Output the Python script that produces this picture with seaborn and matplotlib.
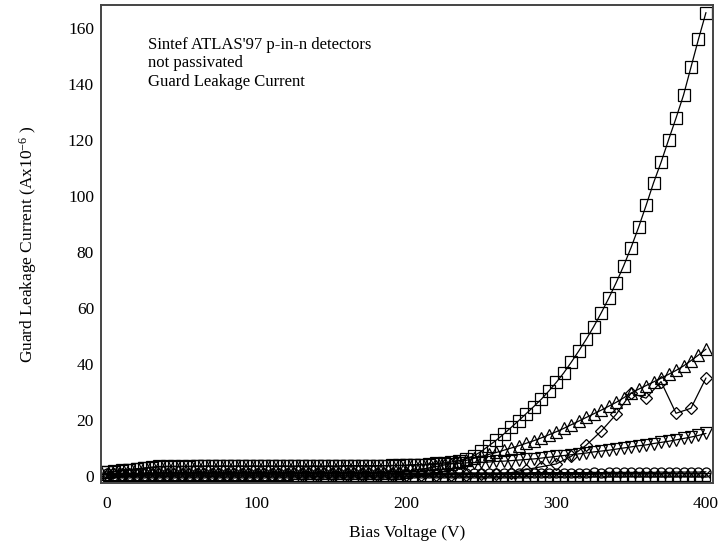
import matplotlib
matplotlib.use("Agg")
import matplotlib.pyplot as plt
import seaborn as sns
import pandas as pd

# ---------------- data ----------------
volts5 = list(range(0, 405, 5))     # 81 points, 5 V step
volts10 = list(range(0, 410, 10))   # 41 points, 10 V step

squares = [1.5, 1.7, 2.0, 2.3, 2.6, 2.9, 3.2, 3.4, 3.5, 3.5,
           3.5, 3.5, 3.6, 3.6, 3.6, 3.6, 3.6, 3.6, 3.6, 3.6,
           3.6, 3.6, 3.6, 3.6, 3.6, 3.6, 3.6, 3.6, 3.6, 3.6,
           3.6, 3.6, 3.7, 3.7, 3.7, 3.7, 3.7, 3.7, 3.8, 3.8,
           3.9, 4.0, 4.1, 4.3, 4.5, 4.7, 5.0, 5.5, 6.2, 7.2,
           8.8, 10.8, 12.8, 15.0, 17.4, 19.8, 22.3, 24.8, 27.4, 30.3,
           33.4, 36.8, 40.6, 44.6, 48.8, 53.3, 58.2, 63.4, 69.0, 75.0,
           81.6, 88.8, 96.6, 104.7, 112.0, 120.0, 127.8, 136.0, 146.0, 156.0,
           165.5]

tri_up = [0.6, 0.6, 0.7, 0.7, 0.7, 0.7, 0.8, 0.8, 0.8, 0.8,
          0.8, 0.8, 0.8, 0.8, 0.8, 0.8, 0.8, 0.8, 0.8, 0.8,
          0.8, 0.8, 0.8, 0.8, 0.8, 0.9, 0.9, 0.9, 0.9, 0.9,
          0.9, 0.9, 0.9, 0.9, 1.0, 1.0, 1.0, 1.0, 1.1, 1.2,
          1.5, 2.0, 2.4, 2.9, 3.4, 3.9, 4.4, 5.0, 5.6, 6.3,
          7.0, 7.7, 8.4, 9.2, 10.0, 10.8, 11.7, 12.6, 13.6, 14.7,
          15.8, 17.0, 18.3, 19.6, 20.9, 22.2, 23.5, 24.9, 26.3, 27.9,
          29.6, 31.0, 32.3, 33.6, 34.9, 36.3, 37.7, 39.3, 41.2, 43.2,
          45.3]

tri_down = [1.3, 1.5, 1.8, 2.1, 2.4, 2.7, 3.0, 3.2, 3.3, 3.3,
            3.3, 3.3, 3.4, 3.4, 3.4, 3.4, 3.4, 3.4, 3.4, 3.4,
            3.4, 3.4, 3.4, 3.4, 3.4, 3.4, 3.4, 3.4, 3.4, 3.4,
            3.4, 3.5, 3.5, 3.5, 3.5, 3.5, 3.5, 3.6, 3.6, 3.7,
            3.8, 3.9, 4.0, 4.1, 4.2, 4.3, 4.4, 4.5, 4.7, 4.8,
            4.9, 5.0, 5.2, 5.3, 5.5, 5.7, 5.9, 6.1, 6.4, 6.7,
            7.0, 7.3, 7.6, 7.9, 8.2, 8.6, 8.9, 9.2, 9.6, 10.0,
            10.4, 10.8, 11.1, 11.6, 12.0, 12.4, 12.9, 13.4, 13.9, 14.5,
            15.2]

diamonds = [0.3, 0.3, 0.3, 0.3, 0.3, 0.3, 0.3, 0.3, 0.3, 0.3,
            0.3, 0.3, 0.3, 0.3, 0.3, 0.3, 0.3, 0.3, 0.3, 0.3,
            0.4, 0.4, 0.4, 0.5, 0.5, 0.6, 0.7, 1.2, 2.3, 3.3,
            4.3, 7.0, 11.0, 16.0, 22.0, 29.6, 27.8, 33.7, 22.4, 24.2,
            35.0]

circles = [0.9, 0.9, 1.0, 1.0, 0.9, 1.0, 1.0, 1.0, 0.9, 1.0,
           1.0, 1.0, 0.9, 1.0, 1.0, 1.0, 1.0, 0.9, 1.0, 1.0,
           1.0, 1.0, 1.0, 0.9, 1.0, 1.0, 1.0, 1.0, 1.0, 1.0,
           1.0, 1.0, 1.0, 1.0, 1.0, 1.0, 1.0, 1.0, 1.0, 1.0,
           1.0, 1.1, 1.0, 1.1, 1.1, 1.0, 1.1, 1.1, 1.1, 1.1,
           1.1, 1.1, 1.1, 1.1, 1.1, 1.2, 1.1, 1.2, 1.2, 1.2,
           1.2, 1.2, 1.2, 1.2, 1.2, 1.3, 1.2, 1.3, 1.3, 1.3,
           1.3, 1.3, 1.3, 1.3, 1.4, 1.3, 1.4, 1.4, 1.4, 1.4,
           1.5]

low_sq = [-0.3, -0.3, -0.3, -0.2, -0.3, -0.3, -0.3, -0.3, -0.2, -0.3,
          -0.3, -0.3, -0.3, -0.3, -0.2, -0.3, -0.3, -0.3, -0.3, -0.3,
          -0.3, -0.2, -0.3, -0.3, -0.3, -0.3, -0.3, -0.3, -0.2, -0.3,
          -0.3, -0.3, -0.3, -0.3, -0.3, -0.2, -0.3, -0.3, -0.3, -0.3,
          -0.3, -0.3, -0.2, -0.3, -0.3, -0.3, -0.3, -0.3, -0.3, -0.2,
          -0.3, -0.3, -0.3, -0.3, -0.3, -0.3, -0.2, -0.3, -0.3, -0.3,
          -0.3, -0.3, -0.3, -0.2, -0.3, -0.3, -0.3, -0.3, -0.3, -0.3,
          -0.2, -0.3, -0.3, -0.3, -0.3, -0.3, -0.3, -0.2, -0.3, -0.3,
          -0.3]

low_x = [0.3, 0.3, 0.3, 0.3, 0.4, 0.3, 0.3, 0.3, 0.3, 0.3,
         0.4, 0.3, 0.3, 0.3, 0.3, 0.3, 0.4, 0.3, 0.3, 0.3,
         0.3, 0.3, 0.4, 0.3, 0.3, 0.3, 0.3, 0.3, 0.4, 0.3,
         0.3, 0.3, 0.3, 0.3, 0.4, 0.3, 0.3, 0.3, 0.4, 0.4,
         0.4, 0.4, 0.4, 0.4, 0.4, 0.4, 0.4, 0.4, 0.5, 0.5,
         0.5, 0.5, 0.5, 0.5, 0.5, 0.5, 0.5, 0.6, 0.6, 0.6,
         0.6, 0.6, 0.6, 0.6, 0.6, 0.6, 0.7, 0.7, 0.7, 0.7,
         0.7, 0.7, 0.7, 0.7, 0.7, 0.8, 0.8, 0.8, 0.8, 0.8,
         0.8]

x_ticks = [0, 100, 200, 300, 400]
y_ticks = [0, 20, 40, 60, 80, 100, 120, 140, 160]
note_lines = ["Sintef ATLAS'97 p-in-n detectors", "not passivated",
              "Guard Leakage Current"]

# ---------------- style ----------------
sns.set_theme(style="white")
plt.rcParams["font.family"] = ["Liberation Serif", "DejaVu Serif"]
plt.rcParams["mathtext.fontset"] = "custom"
plt.rcParams["mathtext.rm"] = "Liberation Serif"
plt.rcParams["text.color"] = "black"
plt.rcParams["axes.labelcolor"] = "black"
plt.rcParams["xtick.color"] = "black"
plt.rcParams["ytick.color"] = "black"

fig = plt.figure(figsize=(7.2, 5.5), dpi=100)
ax = fig.add_axes([101 / 720, 1 - 483 / 550, 612 / 720, 478 / 550])

series = [
    (volts5, low_sq, "s", 5.5),
    (volts5, low_x, "x", 5.5),
    (volts5, circles, "o", 6.5),
    (volts10, diamonds, "D", 6.0),
    (volts5, tri_down, "v", 8.0),
    (volts5, tri_up, "^", 8.0),
    (volts5, squares, "s", 8.5),
]
for xs, ys, mk, ms in series:
    df = pd.DataFrame({"V": xs, "I": ys})
    sns.lineplot(data=df, x="V", y="I", ax=ax, color="black", lw=0.9,
                 marker=mk, markersize=ms, markerfacecolor="none",
                 markeredgecolor="black", markeredgewidth=0.9,
                 estimator=None, sort=False)

ax.set_xlim(-4, 404.7)
ax.set_ylim(-2.5, 168.2)
ax.set_xticks(x_ticks)
ax.set_yticks(y_ticks)
ax.tick_params(axis="both", direction="in", length=9, width=1,
               color="#222222", labelcolor="black", labelsize=12.5, pad=5)
ax.tick_params(axis="x", pad=9)
for sp in ax.spines.values():
    sp.set_color("#444444")
    sp.set_linewidth(1.4)

ax.set_xlabel("Bias Voltage (V)", fontsize=12.5, color="black")
ax.set_ylabel(r"Guard Leakage Current (Ax10$\mathregular{^{-6}}$ )",
              fontsize=12.5, color="black")
xl = ax.xaxis.label
xl.set_va("center")
ax.xaxis.set_label_coords(0.5, (483 - 533) / 478)
yl = ax.yaxis.label
yl.set_va("center")
yl.set_rotation_mode("default")
ax.yaxis.set_label_coords((28 - 101) / 612, 0.5)

for line, ypx in zip(note_lines, [45, 63.3, 81.7]):
    ax.text((148 - 101) / 612, (483 - ypx) / 478, line, transform=ax.transAxes,
            ha="left", va="center", fontsize=12, color="black")

fig.savefig("out.png", dpi=100)
